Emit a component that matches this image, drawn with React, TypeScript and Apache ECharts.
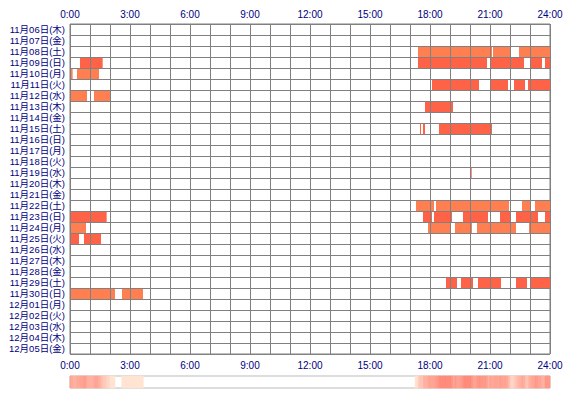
import React, { useEffect, useRef } from "react";
import * as echarts from "echarts";

const days = [
  "11月06日(木)", "11月07日(金)", "11月08日(土)", "11月09日(日)", "11月10日(月)",
  "11月11日(火)", "11月12日(水)", "11月13日(木)", "11月14日(金)", "11月15日(土)",
  "11月16日(日)", "11月17日(月)", "11月18日(火)", "11月19日(水)", "11月20日(木)",
  "11月21日(金)", "11月22日(土)", "11月23日(日)", "11月24日(月)", "11月25日(火)",
  "11月26日(水)", "11月27日(木)", "11月28日(金)", "11月29日(土)", "11月30日(日)",
  "12月01日(月)", "12月02日(火)", "12月03日(水)", "12月04日(木)", "12月05日(金)",
];

const hourTicks = ["0:00", "3:00", "6:00", "9:00", "12:00", "15:00", "18:00", "21:00", "24:00"];

// [day index, start, end]
const morningSessions: [number, string, string][] = [
  [3, "0:30", "1:38"],
  [4, "0:00", "0:08"], [4, "0:21", "1:27"],
  [6, "0:00", "0:51"], [6, "1:12", "2:00"],
  [17, "0:00", "1:50"],
  [18, "0:00", "0:48"],
  [19, "0:00", "0:27"], [19, "0:42", "1:33"],
  [24, "0:00", "2:15"], [24, "2:36", "3:39"],
];

const eveningSessions: [number, string, string][] = [
  [2, "17:24", "21:06"], [2, "21:09", "22:00"], [2, "22:27", "24:00"],
  [3, "17:24", "20:51"], [3, "21:00", "22:42"], [3, "23:03", "23:36"], [3, "23:45", "24:00"],
  [5, "18:06", "20:27"], [5, "21:03", "21:54"], [5, "22:12", "22:45"], [5, "22:54", "24:00"],
  [7, "17:45", "19:09"],
  [9, "17:30", "17:33"], [9, "17:39", "17:45"], [9, "18:27", "21:06"],
  [13, "20:03", "20:05"],
  [16, "17:18", "18:12"], [16, "18:18", "21:57"], [16, "22:36", "23:03"], [16, "23:15", "24:00"],
  [17, "17:39", "18:06"], [17, "18:12", "19:06"], [17, "19:39", "20:54"], [17, "21:30", "22:03"],
  [17, "22:18", "23:24"], [17, "23:45", "24:00"],
  [18, "17:54", "19:00"], [18, "19:15", "20:06"], [18, "20:21", "22:18"], [18, "22:57", "24:00"],
  [23, "18:48", "19:21"], [23, "19:33", "20:09"], [23, "20:24", "21:33"], [23, "22:18", "22:51"],
  [23, "23:03", "24:00"],
];

const toMin = (t: string) => {
  const [h, m] = t.split(":").map(Number);
  return h * 60 + m;
};

const BIN = 5;

export default function App() {
  const ref = useRef<HTMLDivElement>(null);

  useEffect(() => {
    if (!ref.current) return;
    const chart = echarts.init(ref.current, null, { renderer: "svg" });

    const sessions = [...morningSessions, ...eveningSessions].map(([d, s, e]) => [d, toMin(s), toMin(e)]);

    const nBins = 1440 / BIN;
    const binLabels: string[] = [];
    const stripData: number[][] = [];
    for (let b = 0; b < nBins; b++) {
      binLabels.push(String(b));
      const b0 = b * BIN;
      const b1 = b0 + BIN;
      let v = 0;
      sessions.forEach(([, s, e]) => {
        const ov = Math.min(e, b1) - Math.max(s, b0);
        if (ov > 0) v += ov / BIN;
      });
      if (v > 0) stripData.push([b, 0, Math.max(1, v)]);
    }

    const navy = "#000080";
    const gridGray = "#808080";

    chart.setOption({
      animation: false,
      backgroundColor: "#ffffff",
      textStyle: { fontFamily: "'Liberation Sans', 'Noto Sans CJK JP', sans-serif" },
      grid: [
        { left: 70, top: 24, width: 480, height: 330, show: true, borderColor: gridGray, borderWidth: 1, containLabel: false },
        { left: 70, top: 376, width: 480, height: 12, show: true, borderColor: "#bbbbbb", borderWidth: 1, containLabel: false },
      ],
      xAxis: [
        {
          gridIndex: 0, type: "value", min: 0, max: 1440, interval: 60, position: "top", z: 3,
          axisLine: { show: false }, axisTick: { show: false },
          axisLabel: {
            color: navy, fontSize: 10, margin: 5, hideOverlap: false,
            formatter: (v: number) => (v % 180 === 0 ? hourTicks[v / 180] : ""),
          },
          splitLine: { show: true, lineStyle: { color: gridGray, width: 1 } },
        },
        {
          gridIndex: 0, type: "value", min: 0, max: 1440, interval: 60, position: "bottom", z: 3,
          axisLine: { show: false }, axisTick: { show: false },
          axisLabel: {
            color: navy, fontSize: 10, margin: 6, hideOverlap: false,
            formatter: (v: number) => (v % 180 === 0 ? hourTicks[v / 180] : ""),
          },
          splitLine: { show: false },
        },
        { gridIndex: 1, type: "category", data: binLabels, show: false },
      ],
      yAxis: [
        {
          gridIndex: 0, type: "category", data: days, inverse: true, z: 3,
          axisLine: { show: false }, axisTick: { show: false },
          axisLabel: {
            color: navy, fontSize: 9.5, margin: 5, interval: 0, hideOverlap: false, lineHeight: 10,
            fontFamily: "'Liberation Sans', 'Noto Sans CJK JP', sans-serif",
          },
          splitLine: { show: true, interval: 0, lineStyle: { color: gridGray, width: 1 } },
        },
        { gridIndex: 1, type: "category", data: [""], show: false },
      ],
      visualMap: {
        show: false, type: "continuous", seriesIndex: 1, dimension: 2,
        min: 1, max: 8, inRange: { color: ["#ffe3d3", "#ff8a7a"] },
      },
      series: [
        {
          type: "custom",
          xAxisIndex: 0,
          yAxisIndex: 0,
          z: 1,
          encode: { x: [1, 2], y: 0 },
          data: sessions,
          renderItem: (params: any, api: any) => {
            const d = api.value(0);
            const p0 = api.coord([api.value(1), d]);
            const p1 = api.coord([api.value(2), d]);
            const h = api.size([0, 1])[1];
            return {
              type: "rect",
              shape: { x: p0[0], y: p0[1] - h / 2, width: Math.max(0.7, p1[0] - p0[0]), height: h },
              style: { fill: d % 2 ? "#ff6347" : "#ff7f50" },
            };
          },
        },
        {
          type: "heatmap",
          xAxisIndex: 2,
          yAxisIndex: 1,
          data: stripData,
          itemStyle: { borderWidth: 0 },
        },
      ],
    });

    return () => chart.dispose();
  }, []);

  return (
    <div
      ref={ref}
      style={{ position: "absolute", left: 0, top: 0, width: 570, height: 400, background: "#fff" }}
    />
  );
}
